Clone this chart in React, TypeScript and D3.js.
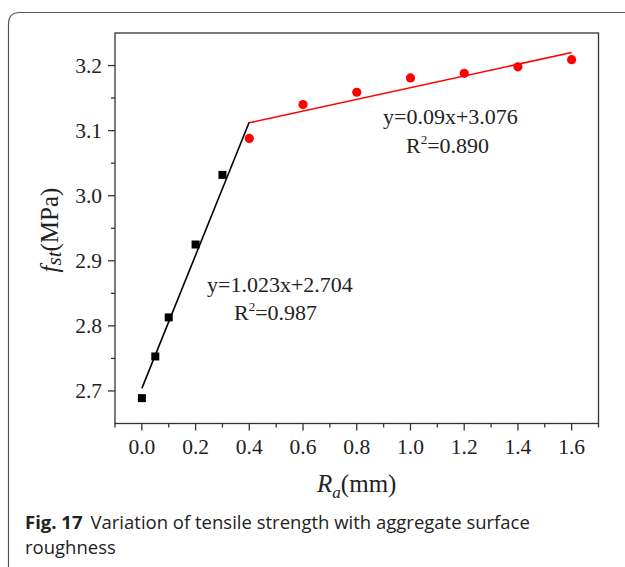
import React from "react";
import * as d3 from "d3";

const blackX = [0, 0.05, 0.1, 0.2, 0.3];
const blackY = [2.689, 2.753, 2.813, 2.925, 3.032];
const redX = [0.4, 0.6, 0.8, 1.0, 1.2, 1.4, 1.6];
const redY = [3.088, 3.14, 3.159, 3.181, 3.188, 3.198, 3.209];
const blackFit = { slope: 1.023, intercept: 2.704, x0: 0, x1: 0.4 };
const redFit = { slope: 0.09, intercept: 3.076, x0: 0.4, x1: 1.6 };
const xTicks = [0, 0.2, 0.4, 0.6, 0.8, 1.0, 1.2, 1.4, 1.6];
const xMinor = [-0.1, 0.1, 0.3, 0.5, 0.7, 0.9, 1.1, 1.3, 1.5, 1.7];
const yTicks = [2.7, 2.8, 2.9, 3.0, 3.1, 3.2];
const yMinor = [2.75, 2.85, 2.95, 3.05, 3.15];

export default function App() {
  const W = 625, H = 567;
  const L = 115, R = 598.5, T = 33, B = 423.5;
  const x = d3.scaleLinear().domain([-0.1, 1.7]).range([L, R]);
  const y = d3.scaleLinear().domain([2.65, 3.25]).range([B, T]);
  const serif = "'Liberation Serif', 'Times New Roman', serif";
  const sans = "'Open Sans', 'Noto Sans', sans-serif";
  const line = d3.line<number>().x((d) => x(d[0])).y((d) => y(d[1]));
  const fitPts = (f: typeof blackFit) => [
    [f.x0, f.slope * f.x0 + f.intercept],
    [f.x1, f.slope * f.x1 + f.intercept],
  ];
  const axisC = "#333";
  return (
    <svg width={W} height={H} style={{ position: "absolute", left: 0, top: 0 }}>
      <rect x={0} y={0} width={W} height={H} fill="#fff" />
      <path
        d={`M8.5,${H + 10} L8.5,24 Q8.5,12.5 20,12.5 L${W + 10},12.5`}
        fill="none"
        stroke="#555"
        strokeWidth={1.2}
      />
      {/* plot frame */}
      <rect x={L} y={T} width={R - L} height={B - T} fill="none" stroke={axisC} strokeWidth={1.3} />
      {/* y ticks */}
      {yTicks.map((v) => (
        <g key={"y" + v}>
          <line x1={L - 7} x2={L} y1={y(v)} y2={y(v)} stroke={axisC} strokeWidth={1.3} />
          <text x={L - 13} y={y(v)} dy="0.35em" textAnchor="end" fontFamily={serif} fontSize={21.5} fill="#222">
            {v.toFixed(1)}
          </text>
        </g>
      ))}
      {yMinor.map((v) => (
        <line key={"ym" + v} x1={L - 4} x2={L} y1={y(v)} y2={y(v)} stroke={axisC} strokeWidth={1.3} />
      ))}
      {/* x ticks */}
      {xTicks.map((v) => (
        <g key={"x" + v}>
          <line x1={x(v)} x2={x(v)} y1={B} y2={B + 7} stroke={axisC} strokeWidth={1.3} />
          <text x={x(v)} y={B + 30} textAnchor="middle" fontFamily={serif} fontSize={21.5} fill="#222">
            {v.toFixed(1)}
          </text>
        </g>
      ))}
      {xMinor.map((v) => (
        <line key={"xm" + v} x1={x(v)} x2={x(v)} y1={B} y2={B + 4} stroke={axisC} strokeWidth={1.3} />
      ))}
      {/* fit lines */}
      <path d={line(fitPts(blackFit) as any) || ""} stroke="#000" strokeWidth={1.6} fill="none" />
      <path d={line(fitPts(redFit) as any) || ""} stroke="#f00" strokeWidth={1.6} fill="none" />
      {/* markers */}
      {blackX.map((v, i) => (
        <rect key={"b" + i} x={x(v) - 4} y={y(blackY[i]) - 4} width={8} height={8} fill="#000" />
      ))}
      {redX.map((v, i) => (
        <circle key={"r" + i} cx={x(v)} cy={y(redY[i])} r={4.6} fill="#f00" />
      ))}
      {/* annotations */}
      <text x={207} y={292} fontFamily={serif} fontSize={22} fill="#222">y=1.023x+2.704</text>
      <text x={234} y={320} fontFamily={serif} fontSize={22} fill="#222">
        R<tspan dy={-9} fontSize={13}>2</tspan><tspan dy={9}>=0.987</tspan>
      </text>
      <text x={383} y={124} fontFamily={serif} fontSize={22} fill="#222">y=0.09x+3.076</text>
      <text x={406} y={153} fontFamily={serif} fontSize={22} fill="#222">
        R<tspan dy={-9} fontSize={13}>2</tspan><tspan dy={9}>=0.890</tspan>
      </text>
      {/* axis labels */}
      <text x={(L + R) / 2} y={492} textAnchor="middle" fontFamily={serif} fontSize={25} fill="#222">
        <tspan fontStyle="italic">R</tspan>
        <tspan fontStyle="italic" fontSize={17} dy={6}>a</tspan>
        <tspan dy={-6}>(mm)</tspan>
      </text>
      <text
        transform={`translate(58, 230) rotate(-90)`}
        textAnchor="middle"
        fontFamily={serif}
        fontSize={25}
        fill="#222"
      >
        <tspan fontStyle="italic">f</tspan>
        <tspan fontStyle="italic" fontSize={21} dy={3}>st</tspan>
        <tspan dy={-3}>(MPa)</tspan>
      </text>
      {/* caption */}
      <text x={25} y={529} fontFamily={sans} fontSize={18.5} fill="#222">
        <tspan fontWeight="bold">Fig. 17</tspan>
        <tspan dx={8}>Variation of tensile strength with aggregate surface</tspan>
      </text>
      <text x={25} y={554} fontFamily={sans} fontSize={18.5} fill="#222">roughness</text>
    </svg>
  );
}
